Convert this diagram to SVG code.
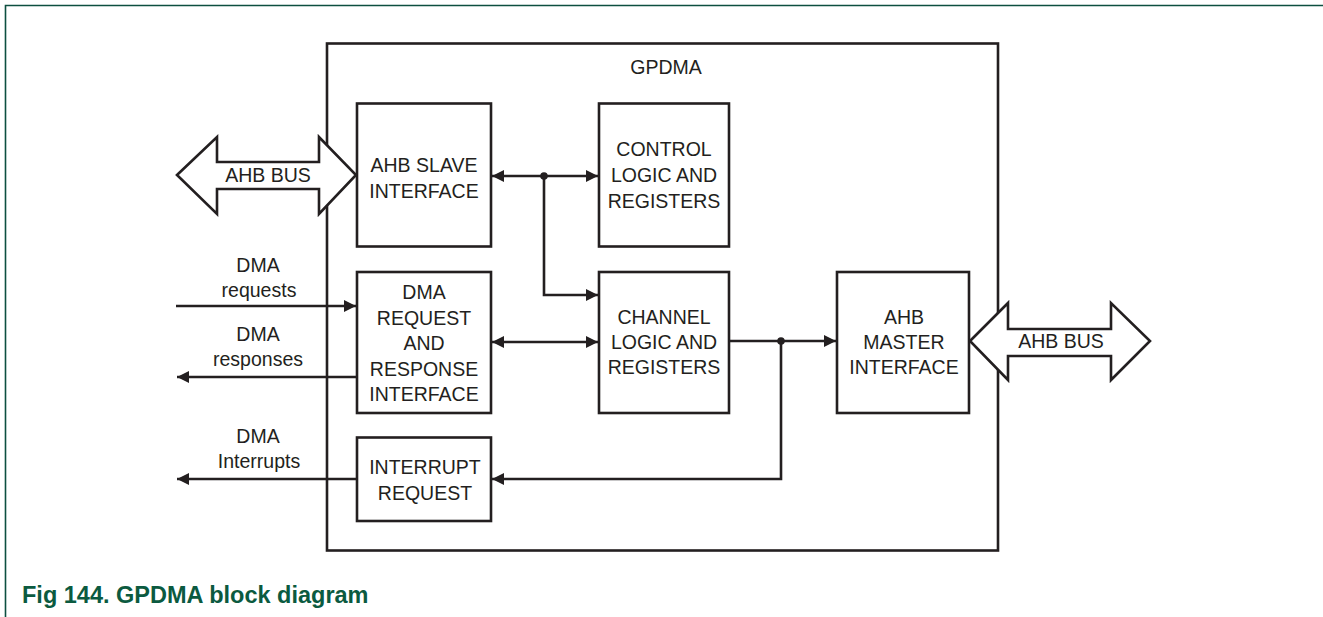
<svg xmlns="http://www.w3.org/2000/svg" width="1323" height="617" viewBox="0 0 1323 617">
<style>
.box{fill:#fff;stroke:#231f20;stroke-width:2.6}
.bus{fill:#fff;stroke:#231f20;stroke-width:2.6;stroke-linejoin:miter}
.wire{fill:none;stroke:#231f20;stroke-width:2.6}
.t{font-family:"Liberation Sans",Arial,sans-serif;font-size:19.5px;fill:#231f20;text-anchor:middle}
.cap{font-family:"Liberation Sans",Arial,sans-serif;font-size:23.5px;font-weight:bold;fill:#0b5a40}
</style>
<defs>
<marker id="ah" viewBox="0 0 12 12" refX="12" refY="6" markerWidth="12" markerHeight="12" markerUnits="userSpaceOnUse" orient="auto-start-reverse">
<path d="M0,0 L12,6 L0,12 z" fill="#231f20"/>
</marker>
</defs>
<path d="M5.5 617 V5.5 H1323" fill="none" stroke="#0d4f40" stroke-width="1.6"/>
<g id="gpdma">
<rect class="box" x="327" y="43.5" width="671" height="507"/>
<text class="t" x="666" y="73.5">GPDMA</text>
</g>
<g id="ahb-slave">
<rect class="box" x="357" y="103.5" width="134" height="143"/>
<text class="t" x="424" y="172">AHB SLAVE</text>
<text class="t" x="424" y="197.5">INTERFACE</text>
</g>
<g id="control">
<rect class="box" x="599" y="103.5" width="130" height="143"/>
<text class="t" x="664" y="156">CONTROL</text>
<text class="t" x="664" y="182">LOGIC AND</text>
<text class="t" x="664" y="208">REGISTERS</text>
</g>
<g id="dma-req">
<rect class="box" x="357" y="272" width="134" height="141"/>
<text class="t" x="424" y="299">DMA</text>
<text class="t" x="424" y="325">REQUEST</text>
<text class="t" x="424" y="350">AND</text>
<text class="t" x="424" y="375.5">RESPONSE</text>
<text class="t" x="424" y="401">INTERFACE</text>
</g>
<g id="channel">
<rect class="box" x="599" y="272" width="130" height="141"/>
<text class="t" x="664" y="324">CHANNEL</text>
<text class="t" x="664" y="348.5">LOGIC AND</text>
<text class="t" x="664" y="373.5">REGISTERS</text>
</g>
<g id="ahb-master">
<rect class="box" x="837" y="272" width="132" height="141"/>
<text class="t" x="904" y="323.5">AHB</text>
<text class="t" x="904" y="348.5">MASTER</text>
<text class="t" x="904" y="373.5">INTERFACE</text>
</g>
<g id="interrupt">
<rect class="box" x="357" y="437.5" width="134" height="83.5"/>
<text class="t" x="425" y="473.5">INTERRUPT</text>
<text class="t" x="425" y="499.5">REQUEST</text>
</g>
<g id="bus-left">
<polygon class="bus" points="177,175 217,137 217,162 319,162 319,137 356,175 319,214 319,189 217,189 217,214"/>
<text class="t" x="268" y="182">AHB BUS</text>
</g>
<g id="bus-right">
<polygon class="bus" points="970,341 1008,303 1008,329 1111,329 1111,303 1150,341 1111,380 1111,356 1008,356 1008,380"/>
<text class="t" x="1061" y="347.5">AHB BUS</text>
</g>
<g id="labels">
<text class="t" x="258" y="272">DMA</text>
<text class="t" x="259" y="297">requests</text>
<text class="t" x="258" y="341">DMA</text>
<text class="t" x="258" y="366">responses</text>
<text class="t" x="258" y="443">DMA</text>
<text class="t" x="259" y="468">Interrupts</text>
</g>
<g id="connectors">
<path class="wire" d="M492 176 H598" marker-start="url(#ah)" marker-end="url(#ah)"/>
<path class="wire" d="M544 176 V295 H598" marker-end="url(#ah)"/>
<path class="wire" d="M492 342 H598" marker-start="url(#ah)" marker-end="url(#ah)"/>
<path class="wire" d="M729 341 H836" marker-end="url(#ah)"/>
<path class="wire" d="M781 341 V479 H492" marker-end="url(#ah)"/>
<path class="wire" d="M176 306 H356" marker-end="url(#ah)"/>
<path class="wire" d="M357 377 H177" marker-end="url(#ah)"/>
<path class="wire" d="M357 479 H177" marker-end="url(#ah)"/>
<circle cx="544" cy="176" r="3.8" fill="#231f20"/>
<circle cx="781" cy="341" r="3.8" fill="#231f20"/>
</g>
<text class="cap" x="22" y="603">Fig 144. GPDMA block diagram</text>
</svg>
